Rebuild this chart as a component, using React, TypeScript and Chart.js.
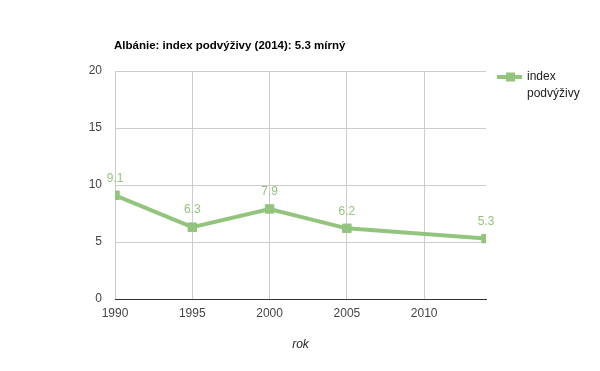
import React, { useEffect, useRef } from "react";
import { Chart, registerables } from "chart.js";

Chart.register(...registerables);

const years = [1990, 1995, 2000, 2005, 2014];
const values = [9.1, 6.3, 7.9, 6.2, 5.3];
const seriesName = ["index", "podvýživy"];
const titleText = "Albánie: index podvýživy (2014): 5.3 mírný";
const xTitle = "rok";
const yTicks = [0, 5, 10, 15, 20];
const xTicks = [1990, 1995, 2000, 2005, 2010];

const GREEN = "#93c47d";
const FONT = "'Liberation Sans', Arial, sans-serif";

export default function App() {
  const ref = useRef<HTMLCanvasElement | null>(null);
  useEffect(() => {
    document.body.style.margin = "0";
    const canvas = ref.current!;
    const decor = {
      id: "decor",
      afterDatasetsDraw(chart: any) {
        const ctx = chart.ctx;
        const meta = chart.getDatasetMeta(0);
        ctx.save();
        ctx.font = `12px ${FONT}`;
        ctx.fillStyle = GREEN;
        ctx.textAlign = "center";
        ctx.textBaseline = "middle";
        meta.data.forEach((pt: any, i: number) => {
          ctx.fillText(values[i].toFixed(1), pt.x, pt.y - 17);
        });
        ctx.restore();
      },
      afterDraw(chart: any) {
        const ctx = chart.ctx;
        const area = chart.chartArea;
        ctx.save();
        // title
        ctx.font = `bold 11.5px ${FONT}`;
        ctx.fillStyle = "#000";
        ctx.textAlign = "left";
        ctx.textBaseline = "middle";
        ctx.fillText(titleText, area.left - 1, 46);
        // x title
        ctx.font = `italic 12px ${FONT}`;
        ctx.fillStyle = "#222";
        ctx.textAlign = "center";
        ctx.fillText(xTitle, (area.left + area.right) / 2, 345);
        // legend
        const ly = 77;
        ctx.strokeStyle = GREEN;
        ctx.lineWidth = 4;
        ctx.beginPath();
        ctx.moveTo(497, ly);
        ctx.lineTo(522, ly);
        ctx.stroke();
        ctx.fillStyle = GREEN;
        ctx.fillRect(506, ly - 4.5, 9, 9);
        ctx.font = `12px ${FONT}`;
        ctx.fillStyle = "#222";
        ctx.textAlign = "left";
        ctx.fillText(seriesName[0], 527, ly);
        ctx.fillText(seriesName[1], 527, ly + 17);
        ctx.restore();
      },
    };
    const chart = new Chart(canvas, {
      type: "line",
      data: {
        datasets: [
          {
            label: seriesName.join(" "),
            data: years.map((x, i) => ({ x, y: values[i] })),
            borderColor: GREEN,
            backgroundColor: GREEN,
            borderWidth: 4,
            pointStyle: "rect",
            pointRadius: 6,
            pointBorderWidth: 1,
            pointBorderColor: GREEN,
            pointBackgroundColor: GREEN,
            tension: 0,
          },
        ],
      },
      options: {
        animation: false,
        responsive: false,
        devicePixelRatio: 1,
        layout: { padding: { left: 0, right: 114, top: 71, bottom: 0 } },
        plugins: {
          legend: { display: false },
          tooltip: { enabled: false },
          title: { display: false },
        },
        scales: {
          x: {
            type: "linear",
            min: 1990,
            max: 2014,
            afterFit(scale: any) {
              scale.height = 72;
            },
            afterBuildTicks(scale: any) {
              scale.ticks = xTicks.map((v) => ({ value: v }));
            },
            ticks: {
              includeBounds: false,
              stepSize: 5,
              padding: 7,
              color: "#444",
              font: { family: FONT, size: 12 },
              maxRotation: 0,
              callback: (v: any) => String(v),
            },
            grid: { color: "#cccccc", drawTicks: false, lineWidth: 1 },
            border: { display: true, color: "#333333", width: 1 },
          },
          y: {
            type: "linear",
            min: 0,
            max: 20,
            afterFit(scale: any) {
              scale.width = 115;
            },
            afterBuildTicks(scale: any) {
              scale.ticks = yTicks.map((v) => ({ value: v }));
            },
            ticks: {
              stepSize: 5,
              padding: 13,
              color: "#444",
              font: { family: FONT, size: 12 },
            },
            grid: { color: "#cccccc", drawTicks: false, lineWidth: 1 },
            border: { display: false },
          },
        },
      },
      plugins: [decor],
    } as any);
    return () => chart.destroy();
  }, []);
  return (
    <div style={{ width: 600, height: 371, background: "#fff" }}>
      <canvas ref={ref} width={600} height={371} style={{ display: "block" }} />
    </div>
  );
}
